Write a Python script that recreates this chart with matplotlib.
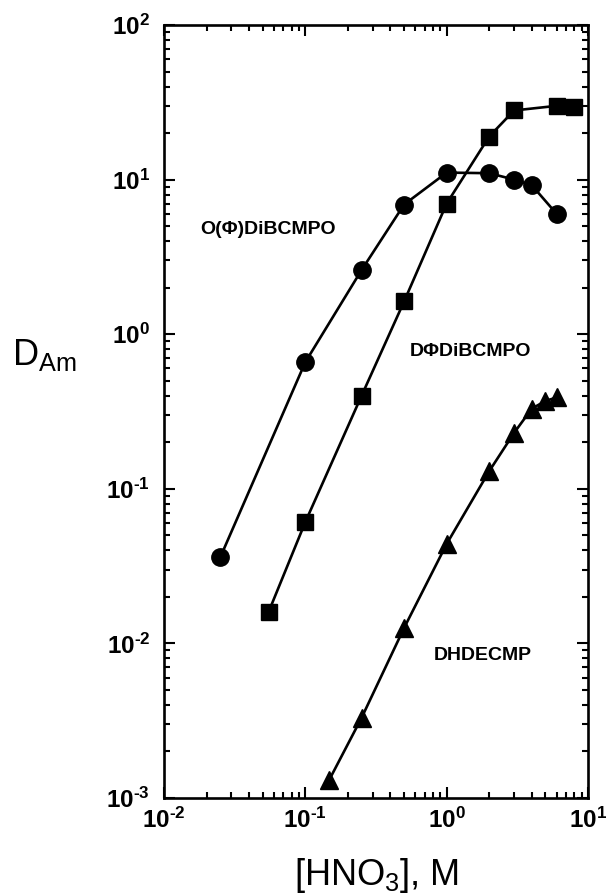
import math
import matplotlib
matplotlib.use("Agg")
import matplotlib.pyplot as plt
from matplotlib.ticker import LogLocator, FuncFormatter, NullFormatter

plt.rcParams["font.family"] = ["Liberation Sans", "DejaVu Sans"]
plt.rcParams["mathtext.fontset"] = "custom"
plt.rcParams["mathtext.rm"] = "Liberation Sans"
plt.rcParams["mathtext.bf"] = "Liberation Sans:bold"
plt.rcParams["mathtext.it"] = "Liberation Sans:italic"

# Am(III) distribution ratios vs nitric acid concentration
hno3_circ = [0.025, 0.1, 0.25, 0.5, 1.0, 2.0, 3.0, 4.0, 6.0]
d_circ = [0.036, 0.66, 2.6, 6.9, 11.1, 11.0, 10.0, 9.2, 6.0]

hno3_sq = [0.055, 0.1, 0.25, 0.5, 1.0, 2.0, 3.0, 6.0, 8.0]
d_sq = [0.016, 0.061, 0.40, 1.63, 7.0, 19.0, 28.0, 30.0, 29.5]

hno3_tri = [0.147, 0.25, 0.5, 1.0, 2.0, 3.0, 4.0, 5.0, 6.0]
d_tri = [0.0013, 0.0033, 0.0126, 0.044, 0.13, 0.23, 0.33, 0.37, 0.39]

series_names = ["O(\u03a6)DiBCMPO", "D\u03a6DiBCMPO", "DHDECMP"]

fig = plt.figure(figsize=(6.06, 8.96), dpi=100)
ax = fig.add_axes([164 / 606, 1 - 798 / 896, 424 / 606, 773 / 896])

line_kw = dict(color="black", linewidth=1.9, markerfacecolor="black",
               markeredgecolor="black")
ax.plot(hno3_circ, d_circ, marker="o", markersize=12.5, **line_kw)
ax.plot(hno3_sq, d_sq, marker="s", markersize=11, **line_kw)
ax.plot(hno3_tri, d_tri, marker="^", markersize=13, **line_kw)

ax.set_xscale("log")
ax.set_yscale("log")
ax.set_xlim(1e-2, 1e1)
ax.set_ylim(1e-3, 1e2)


def decade_label(v, pos):
    e = round(math.log10(v))
    exp = ("\u2010%d" % -e) if e < 0 else "%d" % e
    return r"$\mathbf{10^{%s}}$" % exp


for axis in (ax.xaxis, ax.yaxis):
    axis.set_major_locator(LogLocator(base=10, numticks=10))
    axis.set_minor_locator(LogLocator(base=10, subs=range(2, 10), numticks=10))
    axis.set_minor_formatter(NullFormatter())
    axis.set_major_formatter(FuncFormatter(decade_label))

ax.tick_params(which="both", direction="in", top=True, right=True, width=1.5)
ax.tick_params(which="major", length=8, labelsize=17.5)
ax.tick_params(which="minor", length=4)
ax.tick_params(axis="x", which="major", pad=7)
ax.tick_params(axis="y", which="major", pad=10)

for s in ax.spines.values():
    s.set_linewidth(1.9)

label_kw = dict(transform=ax.transAxes, fontsize=14, fontweight="bold",
                ha="center", va="center")
ax.text(0.245, 0.735, series_names[0], **label_kw)
ax.text(0.722, 0.577, series_names[1], **label_kw)
ax.text(0.752, 0.184, series_names[2], **label_kw)

fig.text(12 / 606, 1 - 365 / 896, r"$\mathrm{D_{Am}}$", fontsize=26,
         ha="left", va="baseline")
fig.text(376 / 606, 1 - 885 / 896, r"$\mathrm{[HNO_3]}$, M", fontsize=26,
         ha="center", va="baseline")

fig.savefig("out.png", dpi=100)
